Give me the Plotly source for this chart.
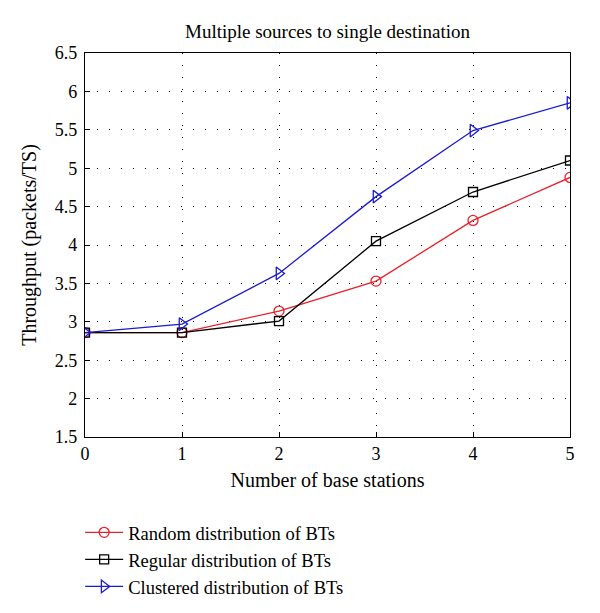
import plotly.graph_objects as go

x_vals = [0, 1, 2, 3, 4, 5]
random_bt = [2.86, 2.86, 3.14, 3.53, 4.32, 4.88]
regular_bt = [2.86, 2.86, 3.01, 4.05, 4.69, 5.10]
clustered_bt = [2.86, 2.97, 3.63, 4.63, 5.49, 5.85]
names = ["Random distribution of BTs", "Regular distribution of BTs", "Clustered distribution of BTs"]

font = "Liberation Serif, DejaVu Serif, serif"
fig = go.Figure()
fig.add_trace(go.Scatter(x=x_vals, y=random_bt, name=names[0], mode="lines+markers",
                         line=dict(color="#e8202a", width=1.3),
                         marker=dict(symbol="circle-open", size=10, color="#e8202a", line=dict(width=1.3))))
fig.add_trace(go.Scatter(x=x_vals, y=regular_bt, name=names[1], mode="lines+markers",
                         line=dict(color="black", width=1.3),
                         marker=dict(symbol="square-open", size=9, color="black", line=dict(width=1.3))))
fig.add_trace(go.Scatter(x=x_vals, y=clustered_bt, name=names[2], mode="lines+markers",
                         line=dict(color="#1a1ad0", width=1.3),
                         marker=dict(symbol="triangle-right-open", size=11, color="#1a1ad0", line=dict(width=1.3))))

axis_common = dict(showline=True, linecolor="black", linewidth=1.3, mirror=True,
                   ticks="inside", ticklen=5, tickcolor="black",
                   showgrid=True, gridcolor="black", griddash="1px,11px", gridwidth=1.2,
                   zeroline=False, automargin=False,
                   tickfont=dict(family=font, size=18, color="black"))
fig.update_xaxes(range=[0, 5], dtick=1, ticklabelstandoff=0,
                 title=dict(text="Number of base stations", font=dict(family=font, size=20, color="black"), standoff=10),
                 **axis_common)
fig.update_yaxes(range=[1.5, 6.5], dtick=0.5, tickformat="~g", ticklabelstandoff=3,
                 title=dict(text="Throughput (packets/TS)", font=dict(family=font, size=20, color="black"), standoff=12),
                 **axis_common)

fig.update_layout(
    width=592, height=605,
    margin=dict(l=77, r=30, t=45, b=176),
    paper_bgcolor="white", plot_bgcolor="white",
    title=dict(text="Multiple sources to single destination", x=0.5, xref="paper", xanchor="center",
               y=0.962, yanchor="middle",
               font=dict(family=font, size=19, color="black")),
    legend=dict(x=-0.01, xref="paper", y=0.164, yref="container", xanchor="left", yanchor="top",
                font=dict(family=font, size=18.5, color="black"),
                bgcolor="rgba(0,0,0,0)", tracegroupgap=0, itemwidth=38),
    showlegend=True,
)
fig.write_html("out.html")
